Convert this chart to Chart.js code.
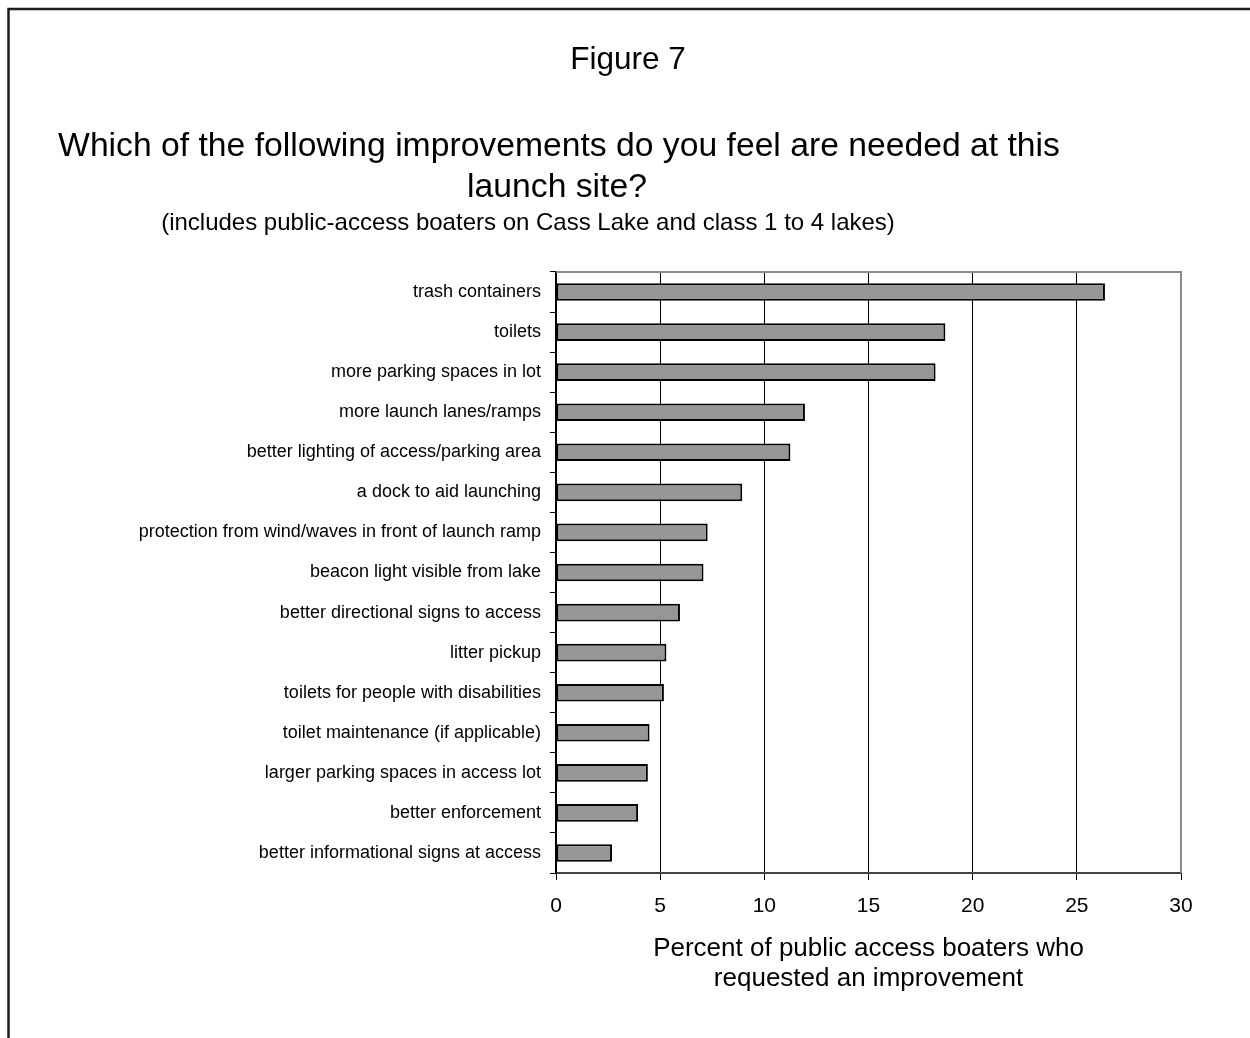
<!DOCTYPE html>
<html>
<head>
<meta charset="utf-8">
<script src="https://cdn.jsdelivr.net/npm/chart.js@4.4.1/dist/chart.umd.min.js"></script>
<style>
  html, body { margin: 0; padding: 0; background: #fff; }
  #wrap { width: 1250px; height: 1038px; position: relative; }
</style>
</head>
<body>
<div id="wrap"><canvas id="chart" width="1250" height="1038"></canvas></div>
<script>
// survey answers, top to bottom
const categories = [
    "trash containers",
    "toilets",
    "more parking spaces in lot",
    "more launch lanes/ramps",
    "better lighting of access/parking area",
    "a dock to aid launching",
    "protection from wind/waves in front of launch ramp",
    "beacon light visible from lake",
    "better directional signs to access",
    "litter pickup",
    "toilets for people with disabilities",
    "toilet maintenance (if applicable)",
    "larger parking spaces in access lot",
    "better enforcement",
    "better informational signs at access"
];
const percentValues = [26.35, 18.69, 18.22, 11.95, 11.25, 8.94, 7.28, 7.08, 5.95, 5.30, 5.18, 4.49, 4.41, 3.94, 2.69];

const xMin = 0;
const xMax = 30;
const xStep = 5;

const figureLabel = "Figure 7";
const titleLines = ["Which of the following improvements do you feel are needed at this", "launch site?"];
const subtitleText = "(includes public-access boaters on Cass Lake and class 1 to 4 lakes)";
const xAxisTitle = ["Percent of public access boaters who", "requested an improvement"];

const FONT = "'Liberation Sans', Arial, sans-serif";

/*
Headings, outer frame and plot frame
*/
const decorPlugin = {
    id: "decor",
    beforeDraw(chart) {
        const ctx = chart.ctx;
        ctx.save();
        ctx.fillStyle = "#fff";
        ctx.fillRect(0, 0, chart.width, chart.height);
        // outer frame (left and top only are visible)
        ctx.strokeStyle = "#1e1e1e";
        ctx.lineWidth = 2.5;
        ctx.beginPath();
        ctx.moveTo(8.5, chart.height);
        ctx.lineTo(8.5, 9);
        ctx.lineTo(chart.width, 9);
        ctx.stroke();

        ctx.fillStyle = "#000";
        ctx.textAlign = "center";
        ctx.textBaseline = "alphabetic";
        ctx.font = "31.5px " + FONT;
        ctx.fillText(figureLabel, 628, 69);
        ctx.font = "33.7px " + FONT;
        ctx.fillText(titleLines[0], 559, 156);
        ctx.fillText(titleLines[1], 557, 197);
        ctx.font = "24px " + FONT;
        ctx.fillText(subtitleText, 528, 230);
        ctx.restore();
    },
    afterDraw(chart) {
        const a = chart.chartArea;
        const ctx = chart.ctx;
        ctx.save();
        ctx.strokeStyle = "#8a8a8a";
        ctx.lineWidth = 2;
        ctx.beginPath();
        ctx.moveTo(a.left, a.top);
        ctx.lineTo(a.right, a.top);
        ctx.lineTo(a.right, a.bottom);
        ctx.stroke();
        ctx.restore();
    }
};

const ctx = document.getElementById("chart").getContext("2d");
const chart = new Chart(ctx, {
    type: "bar",
    data: {
        labels: categories,
        datasets: [
            {
                data: percentValues,
                backgroundColor: "#969696",
                borderColor: "#000",
                borderWidth: 2,
                borderSkipped: false,
                barPercentage: 0.44,
                categoryPercentage: 1.0
            }
        ]
    },
    options: {
        indexAxis: "y",
        responsive: false,
        animation: false,
        devicePixelRatio: 1,
        layout: {
            padding: { top: 272, left: 10, right: 69, bottom: 0 }
        },
        plugins: {
            legend: { display: false },
            tooltip: { enabled: false },
            title: { display: false }
        },
        scales: {
            x: {
                type: "linear",
                position: "bottom",
                min: xMin,
                max: xMax,
                afterFit: (scale) => { scale.height = 165; },
                ticks: {
                    stepSize: xStep,
                    color: "#000",
                    font: { family: FONT, size: 21 },
                    padding: 14,
                    maxRotation: 0
                },
                grid: {
                    color: "#000",
                    lineWidth: 1,
                    tickLength: 7,
                    drawOnChartArea: true
                },
                border: { color: "#444", width: 2 },
                title: {
                    display: true,
                    text: xAxisTitle,
                    color: "#000",
                    font: { family: FONT, size: 26, lineHeight: 1.17 },
                    padding: { top: 0, bottom: 44 }
                }
            },
            y: {
                type: "category",
                afterFit: (scale) => { scale.width = 546; },
                ticks: {
                    color: "#000",
                    font: { family: FONT, size: 18 },
                    padding: 9,
                    autoSkip: false
                },
                grid: {
                    offset: true,
                    drawOnChartArea: false,
                    color: "#000",
                    tickLength: 6,
                    lineWidth: 1
                },
                border: { color: "#000", width: 1.5 }
            }
        }
    },
    plugins: [decorPlugin]
});
</script>
</body>
</html>
